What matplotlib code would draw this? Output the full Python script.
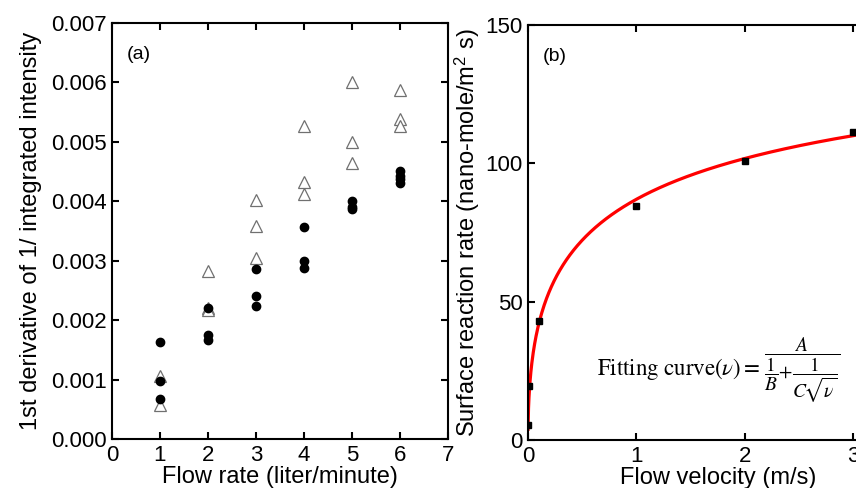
import numpy as np
import matplotlib
matplotlib.use("Agg")
import matplotlib.pyplot as plt
from matplotlib.ticker import FormatStrFormatter

plt.rcParams['font.family'] = ['Liberation Sans', 'DejaVu Sans']
plt.rcParams['mathtext.fontset'] = 'stix'

# ---- panel (a) data ----
tri_x = [1, 1, 2, 2, 2, 3, 3, 3, 4, 4, 4, 5, 5, 5, 6, 6, 6]
tri_y = [0.00106, 0.00057, 0.00283, 0.00221, 0.00217, 0.00402, 0.00359, 0.00304,
         0.00526, 0.00433, 0.00412, 0.00600, 0.00499, 0.00465, 0.00587, 0.00539, 0.00527]
dot_x = [1, 1, 1, 2, 2, 2, 3, 3, 3, 4, 4, 4, 5, 5, 5, 6, 6, 6, 6]
dot_y = [0.00163, 0.00098, 0.00067, 0.00221, 0.00175, 0.00167, 0.00286, 0.00240, 0.00224,
         0.00357, 0.00299, 0.00287, 0.00401, 0.00391, 0.00387, 0.00451, 0.00443, 0.00437, 0.00430]
a_xticks = [0, 1, 2, 3, 4, 5, 6, 7]
a_yticks = [0.000, 0.001, 0.002, 0.003, 0.004, 0.005, 0.006, 0.007]

# ---- panel (b) data ----
vel = [0.001, 0.012, 0.1, 1.0, 2.0, 3.0]
rate = [5.3, 19.5, 43.0, 84.4, 100.8, 111.5]
fit_A, fit_B, fit_C = 1.0, 172.2, 175.9
b_xticks = [0, 1, 2, 3]
b_yticks = [0, 50, 100, 150]

fig = plt.figure(figsize=(8.56, 4.88), dpi=100)

ax1 = fig.add_axes([0.1308, 0.1004, 0.3925, 0.8525])
ax1.plot(tri_x, tri_y, linestyle='none', marker='^', markersize=8.5,
         markerfacecolor='white', markeredgecolor='#707070', markeredgewidth=0.9, zorder=2)
ax1.plot(dot_x, dot_y, linestyle='none', marker='o', markersize=6,
         color='black', zorder=3)
ax1.set_xlim(0, 7)
ax1.set_ylim(0, 0.007)
ax1.set_xticks(a_xticks)
ax1.set_yticks(a_yticks)
ax1.yaxis.set_major_formatter(FormatStrFormatter('%.3f'))
ax1.set_xlabel('Flow rate (liter/minute)', fontsize=17, labelpad=0)
ax1.set_ylabel('1st derivative of 1/ integrated intensity', fontsize=17, labelpad=6)
ax1.text(0.045, 0.925, '(a)', transform=ax1.transAxes, fontsize=14, va='center')

ax2 = fig.add_axes([0.6168, 0.0984, 0.4436, 0.8504])
vv = np.linspace(0.0005, 3.5, 800)
ax2.plot(vv, fit_A / (1.0 / fit_B + 1.0 / (fit_C * np.sqrt(vv))), color='#ff0000', lw=2.3, zorder=2)
ax2.plot(vel, rate, linestyle='none', marker='s', markersize=5, color='black', zorder=3)
ax2.set_xlim(0, 3.5)
ax2.set_ylim(0, 150)
ax2.set_xticks(b_xticks)
ax2.set_yticks(b_yticks)
ax2.set_xlabel('Flow velocity (m/s)', fontsize=17, labelpad=0)
ax2.set_ylabel(r'Surface reaction rate (nano-mole/m$^{\mathregular{2}}$ s)', fontsize=17, labelpad=2)
ax2.text(0.04, 0.925, '(b)', transform=ax2.transAxes, fontsize=14, va='center')
ax2.text(0.64, 25.5, r'$\mathrm{Fitting\ curve}(\nu)=$',
         fontsize=16.5, va='center', ha='left')
ax2.text(2.18, 25.0, r'$\dfrac{A}{\dfrac{1}{B}\!+\!\dfrac{1}{C\!\sqrt{\nu}}}$',
         fontsize=14, va='center', ha='left')

for ax in (ax1, ax2):
    for s in ax.spines.values():
        s.set_linewidth(1.5)
    ax.tick_params(direction='in', length=5, width=1.5, top=True, right=True,
                   labelsize=16, pad=4)

fig.savefig('out.png', dpi=100)
